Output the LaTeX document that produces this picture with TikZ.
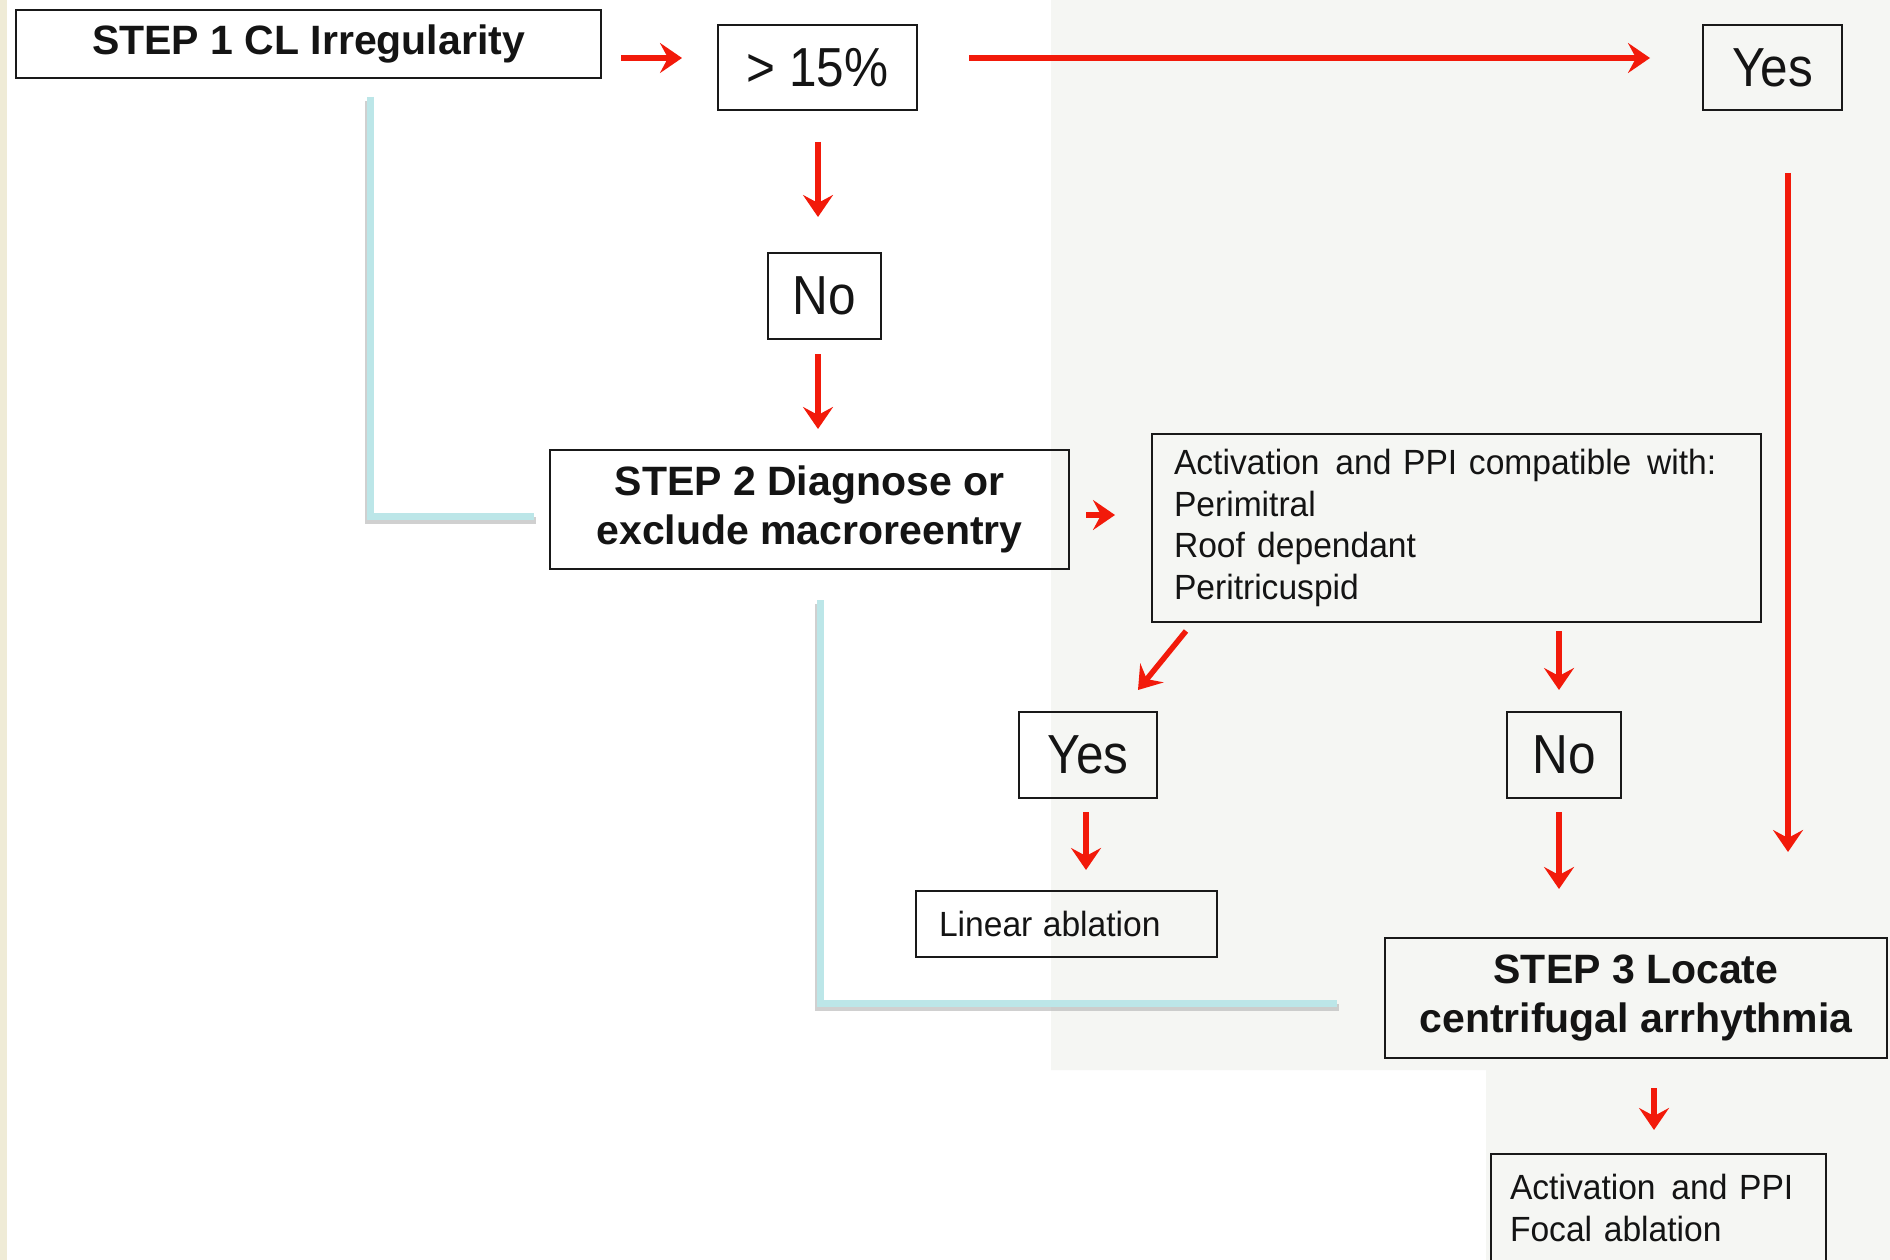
\documentclass[tikz,border=0pt]{standalone}
\usepackage{fontspec}
\setmainfont{Liberation Sans}
\newfontfamily\ynfont[FakeStretch=0.9]{Liberation Sans}
\newfontfamily\smfont[FakeStretch=0.96]{Liberation Sans}
\newfontfamily\bfont{Liberation Sans}
\usetikzlibrary{arrows.meta,calc}
\definecolor{arrred}{RGB}{242,26,10}
\definecolor{cyanl}{RGB}{188,230,232}
\definecolor{bggray}{RGB}{245,246,243}
\definecolor{stripc}{RGB}{239,235,214}
\begin{document}
\begin{tikzpicture}[x=1pt,y=-1pt,
  bx/.style={draw=black!90, line width=2pt, inner sep=0pt, text=black!92},
  arr/.style={draw=arrred, line width=5.5pt, -{Stealth[length=22pt,width=30pt,inset=8pt]}},
  cy/.style={draw=cyanl, line width=7pt},
  cysh/.style={draw=black!30, line width=7pt, opacity=0.6},
  bigb/.style={font=\bfont\fontsize{41}{49}\selectfont\bfseries, align=center},
  yn/.style={font=\ynfont\fontsize{55}{60}\selectfont},
  sm/.style={font=\smfont\fontsize{35}{41.4}\selectfont, align=left}]
\useasboundingbox (0,0) rectangle (1890,1260);
\fill[white] (0,0) rectangle (1890,1260);
\fill[bggray] (1051,0) -- (1890,0) -- (1890,1260) -- (1486,1260) -- (1486,1070) -- (1051,1070) -- cycle;
\fill[stripc] (0,0) rectangle (7,1260);

% nodes
\node[bx, bigb, minimum width=585pt, minimum height=68pt] (s1) at (308.5,44) {STEP 1 CL Irregularity};
\node[bx, yn, minimum width=199pt, minimum height=85pt] (p15) at (817.5,67.5) {> 15\%};
\node[bx, yn, minimum width=139pt, minimum height=85pt] (yesT) at (1772.5,67.5) {Yes};
\node[bx, yn, minimum width=113pt, minimum height=86pt] (noT) at (824.5,296) {No};
\node[bx, bigb, minimum width=519pt, minimum height=119pt] (s2) at (809.5,509.5) {STEP 2 Diagnose or\\exclude macroreentry};
\node[bx, sm, inner xsep=22pt, text width=565pt, minimum height=188pt] (act) at (1456.5,528)
  {Activation\hspace{0.45em}and PPI compatible\hspace{0.45em}with:\\Perimitral\\Roof\hspace{0.35em}dependant\\Peritricuspid};
\node[bx, yn, minimum width=138pt, minimum height=86pt] (yesM) at (1088,755) {Yes};
\node[bx, yn, minimum width=114pt, minimum height=86pt] (noM) at (1564,755) {No};
\node[bx, sm, inner xsep=23pt, text width=255pt, minimum height=66pt] (lin) at (1066.5,924) {Linear\hspace{0.3em}ablation};
\node[bx, bigb, minimum width=502pt, minimum height=120pt] (s3) at (1636,998) {STEP 3 Locate\\centrifugal arrhythmia};
\node[bx, sm, inner xsep=19pt, text width=297pt, minimum height=108pt] (act2) at (1658.5,1208) {Activation\hspace{0.45em}and PPI\\Focal ablation};

% cyan connectors
\draw[cysh] ($(s1.south -| 368,0)+(0,22)$) |- ($(s2.west |- 0,520)+(-13,0)$);
\draw[cy] ($(s1.south -| 370,0)+(0,18)$) |- ($(s2.west |- 0,516)+(-15,0)$);
\draw[cysh] ($(s2.south -| 818,0)+(0,34)$) |- ($(s3.west |- 0,1007)+(-45,0)$);
\draw[cy] ($(s2.south -| 820,0)+(0,30)$) |- ($(s3.west |- 0,1003)+(-47,0)$);

% red arrows
\draw[arr, shorten <=19pt, shorten >=35pt] (s1.east |- 0,58) -- (p15.west |- 0,58);
\draw[arr, shorten <=51pt, shorten >=52pt] (p15.east |- 0,58) -- (yesT.west |- 0,58);
\draw[arr, shorten <=31pt, shorten >=35pt] (p15.south -| 818,0) -- (noT.north -| 818,0);
\draw[arr, shorten <=14pt, shorten >=20pt] (noT.south -| 818,0) -- (s2.north -| 818,0);
\draw[arr, shorten <=16pt, shorten >=36pt] (s2.east |- 0,515) -- (act.west |- 0,515);
\draw[arr] ($(act.south west)+(35,8)$) -- ($(yesM.north west)+(120,-21)$);
\draw[arr, shorten <=8pt, shorten >=21pt] (act.south -| 1559,0) -- (noM.north -| 1559,0);
\draw[arr, shorten <=13pt, shorten >=20pt] (yesM.south -| 1086,0) -- (lin.north -| 1086,0);
\draw[arr, shorten <=13pt, shorten >=48pt] (noM.south -| 1559,0) -- (s3.north -| 1559,0);
\draw[arr, shorten <=62pt, shorten >=85pt] (yesT.south -| 1788,0) -- (s3.north -| 1788,0);
\draw[arr, shorten <=29pt, shorten >=23pt] (s3.south -| 1654,0) -- (act2.north -| 1654,0);
\end{tikzpicture}
\end{document}
